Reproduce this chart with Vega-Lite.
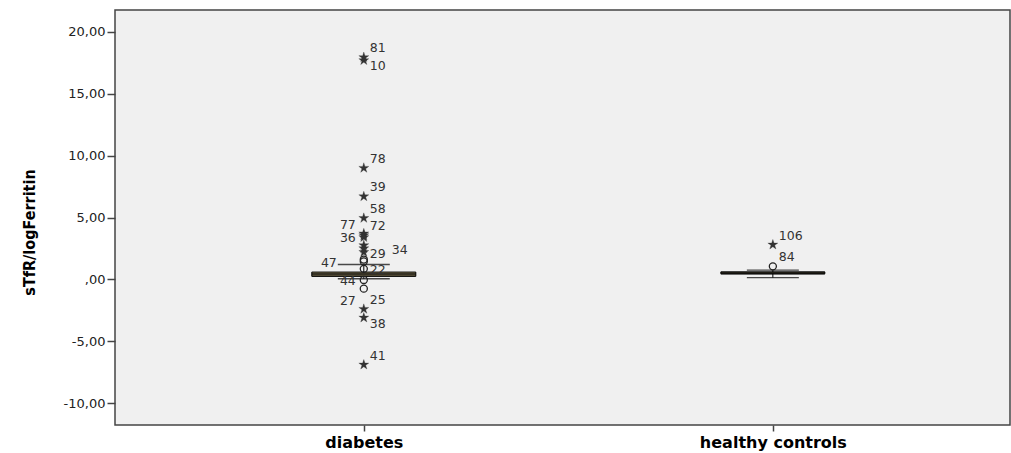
{
  "$schema": "https://vega.github.io/schema/vega-lite/v6.json",
  "width": 895,
  "height": 415,
  "autosize": {"type": "none"},
  "padding": {"left": 115, "top": 10, "right": 1, "bottom": 28},
  "background": "white",
  "config": {
    "view": {"fill": "#f0f0f0", "stroke": "#444444", "strokeWidth": 1.5},
    "axis": {"grid": false, "domain": false}
  },
  "datasets": {
    "boxes": [
      {"group": "diabetes", "lower": 0.05, "q1": 0.24, "median": 0.42, "q3": 0.59, "upper": 1.2},
      {"group": "healthy controls", "lower": 0.14, "q1": 0.45, "median": 0.52, "q3": 0.6, "upper": 0.75}
    ],
    "points": [
      {"group": "diabetes", "value": 17.95, "id": "81", "kind": "extreme", "side": "ru"},
      {"group": "diabetes", "value": 17.7, "id": "10", "kind": "extreme", "side": "rd"},
      {"group": "diabetes", "value": 9.0, "id": "78", "kind": "extreme", "side": "ru"},
      {"group": "diabetes", "value": 6.7, "id": "39", "kind": "extreme", "side": "ru"},
      {"group": "diabetes", "value": 4.95, "id": "58", "kind": "extreme", "side": "ru"},
      {"group": "diabetes", "value": 3.7, "id": "77", "kind": "extreme", "side": "lu"},
      {"group": "diabetes", "value": 3.55, "id": "72", "kind": "extreme", "side": "ru"},
      {"group": "diabetes", "value": 3.4, "id": "36", "kind": "extreme", "side": "l"},
      {"group": "diabetes", "value": 2.75, "id": "34", "kind": "extreme", "side": "rr"},
      {"group": "diabetes", "value": 2.5, "id": "29", "kind": "extreme", "side": "rd"},
      {"group": "diabetes", "value": 2.2, "id": "", "kind": "extreme", "side": "r"},
      {"group": "diabetes", "value": 1.6, "id": "", "kind": "outlier", "side": "r"},
      {"group": "diabetes", "value": 1.45, "id": "47", "kind": "outlier", "side": "lw"},
      {"group": "diabetes", "value": 0.85, "id": "22", "kind": "outlier", "side": "r"},
      {"group": "diabetes", "value": -0.05, "id": "44", "kind": "outlier", "side": "l"},
      {"group": "diabetes", "value": -0.75, "id": "27", "kind": "outlier", "side": "ld"},
      {"group": "diabetes", "value": -2.4, "id": "25", "kind": "extreme", "side": "ru"},
      {"group": "diabetes", "value": -3.1, "id": "38", "kind": "extreme", "side": "rd"},
      {"group": "diabetes", "value": -6.9, "id": "41", "kind": "extreme", "side": "ru"},
      {"group": "healthy controls", "value": 2.8, "id": "106", "kind": "extreme", "side": "ru"},
      {"group": "healthy controls", "value": 1.05, "id": "84", "kind": "outlier", "side": "ru"}
    ]
  },
  "encoding": {
    "x": {
      "field": "group",
      "type": "nominal",
      "sort": ["diabetes", "healthy controls"],
      "scale": {"type": "point", "padding": 0.594, "align": 0.512},
      "axis": {
        "title": null,
        "labelAngle": 0,
        "labelFont": "DejaVu Sans",
        "labelFontWeight": "bold",
        "labelFontSize": 16,
        "labelColor": "#000000",
        "labelPadding": 3,
        "tickColor": "#444444",
        "tickSize": 6,
        "tickWidth": 1.5
      }
    }
  },
  "layer": [
    {
      "data": {"name": "boxes"},
      "mark": {"type": "rule", "color": "#000000", "strokeWidth": 1},
      "encoding": {
        "y": {
          "field": "lower",
          "type": "quantitative",
          "scale": {"domain": [-11.77, 21.77], "nice": false, "zero": false},
          "axis": {
            "title": "sTfR/logFerritin",
            "titleFont": "DejaVu Sans Condensed, Liberation Sans",
            "titleFontWeight": "bold",
            "titleFontSize": 16,
            "titleColor": "#000000",
            "titleX": -78,
            "titleY": 222,
            "values": [-10, -5, 0, 5, 10, 15, 20],
            "labelExpr": "datum.value == 0 ? ',00' : (datum.value < 0 ? '-' : '') + replace(format(abs(datum.value), '.2f'), '.', ',')",
            "labelFont": "DejaVu Sans",
            "labelFontSize": 13,
            "labelColor": "#222222",
            "labelPadding": 2,
            "tickColor": "#444444",
            "tickSize": 8,
            "tickWidth": 1.5
          }
        },
        "y2": {"field": "upper"}
      }
    },
    {
      "data": {"name": "boxes"},
      "mark": {"type": "tick", "orient": "horizontal", "size": 52, "thickness": 1.3, "color": "#000000"},
      "encoding": {"y": {"field": "lower", "type": "quantitative"}}
    },
    {
      "data": {"name": "boxes"},
      "mark": {"type": "tick", "orient": "horizontal", "size": 52, "thickness": 1.3, "color": "#000000"},
      "encoding": {"y": {"field": "upper", "type": "quantitative"}}
    },
    {
      "data": {"name": "boxes"},
      "mark": {"type": "bar", "width": 104, "fill": "#b8a878", "stroke": "#000000", "strokeWidth": 1},
      "encoding": {
        "y": {"field": "q1", "type": "quantitative"},
        "y2": {"field": "q3"}
      }
    },
    {
      "data": {"name": "boxes"},
      "mark": {"type": "tick", "orient": "horizontal", "size": 104, "thickness": 3, "color": "#000000"},
      "encoding": {"y": {"field": "median", "type": "quantitative"}}
    },
    {
      "data": {"name": "points"},
      "transform": [{"filter": "datum.kind == 'outlier'"}],
      "mark": {"type": "point", "shape": "circle", "filled": false, "stroke": "#222222", "strokeWidth": 1.3, "size": 50, "opacity": 1},
      "encoding": {"y": {"field": "value", "type": "quantitative"}}
    },
    {
      "data": {"name": "points"},
      "transform": [{"filter": "datum.kind == 'extreme'"}],
      "mark": {"type": "point", "shape": "M0,-1L0.22,-0.31L0.95,-0.31L0.36,0.12L0.59,0.81L0,0.38L-0.59,0.81L-0.36,0.12L-0.95,-0.31L-0.22,-0.31Z", "filled": true, "fill": "#333333", "stroke": "#333333", "strokeWidth": 0.3, "size": 110, "opacity": 1},
      "encoding": {"y": {"field": "value", "type": "quantitative"}}
    },
    {
      "data": {"name": "points"},
      "transform": [{"filter": "datum.side == 'ru'"}],
      "mark": {"type": "text", "align": "left", "baseline": "middle", "dx": 6, "dy": -9, "font": "DejaVu Sans", "fontSize": 12.5, "fill": "#333333"},
      "encoding": {"y": {"field": "value", "type": "quantitative"}, "text": {"field": "id"}}
    },
    {
      "data": {"name": "points"},
      "transform": [{"filter": "datum.side == 'rd'"}],
      "mark": {"type": "text", "align": "left", "baseline": "middle", "dx": 6, "dy": 6, "font": "DejaVu Sans", "fontSize": 12.5, "fill": "#333333"},
      "encoding": {"y": {"field": "value", "type": "quantitative"}, "text": {"field": "id"}}
    },
    {
      "data": {"name": "points"},
      "transform": [{"filter": "datum.side == 'r'"}],
      "mark": {"type": "text", "align": "left", "baseline": "middle", "dx": 6, "dy": 1, "font": "DejaVu Sans", "fontSize": 12.5, "fill": "#333333"},
      "encoding": {"y": {"field": "value", "type": "quantitative"}, "text": {"field": "id"}}
    },
    {
      "data": {"name": "points"},
      "transform": [{"filter": "datum.side == 'rr'"}],
      "mark": {"type": "text", "align": "left", "baseline": "middle", "dx": 28, "dy": 5, "font": "DejaVu Sans", "fontSize": 12.5, "fill": "#333333"},
      "encoding": {"y": {"field": "value", "type": "quantitative"}, "text": {"field": "id"}}
    },
    {
      "data": {"name": "points"},
      "transform": [{"filter": "datum.side == 'lu'"}],
      "mark": {"type": "text", "align": "right", "baseline": "middle", "dx": -8, "dy": -9, "font": "DejaVu Sans", "fontSize": 12.5, "fill": "#333333"},
      "encoding": {"y": {"field": "value", "type": "quantitative"}, "text": {"field": "id"}}
    },
    {
      "data": {"name": "points"},
      "transform": [{"filter": "datum.side == 'l'"}],
      "mark": {"type": "text", "align": "right", "baseline": "middle", "dx": -8, "dy": 1, "font": "DejaVu Sans", "fontSize": 12.5, "fill": "#333333"},
      "encoding": {"y": {"field": "value", "type": "quantitative"}, "text": {"field": "id"}}
    },
    {
      "data": {"name": "points"},
      "transform": [{"filter": "datum.side == 'lw'"}],
      "mark": {"type": "text", "align": "right", "baseline": "middle", "dx": -27, "dy": 2, "font": "DejaVu Sans", "fontSize": 12.5, "fill": "#333333"},
      "encoding": {"y": {"field": "value", "type": "quantitative"}, "text": {"field": "id"}}
    },
    {
      "data": {"name": "points"},
      "transform": [{"filter": "datum.side == 'ld'"}],
      "mark": {"type": "text", "align": "right", "baseline": "middle", "dx": -8, "dy": 12, "font": "DejaVu Sans", "fontSize": 12.5, "fill": "#333333"},
      "encoding": {"y": {"field": "value", "type": "quantitative"}, "text": {"field": "id"}}
    }
  ]
}
